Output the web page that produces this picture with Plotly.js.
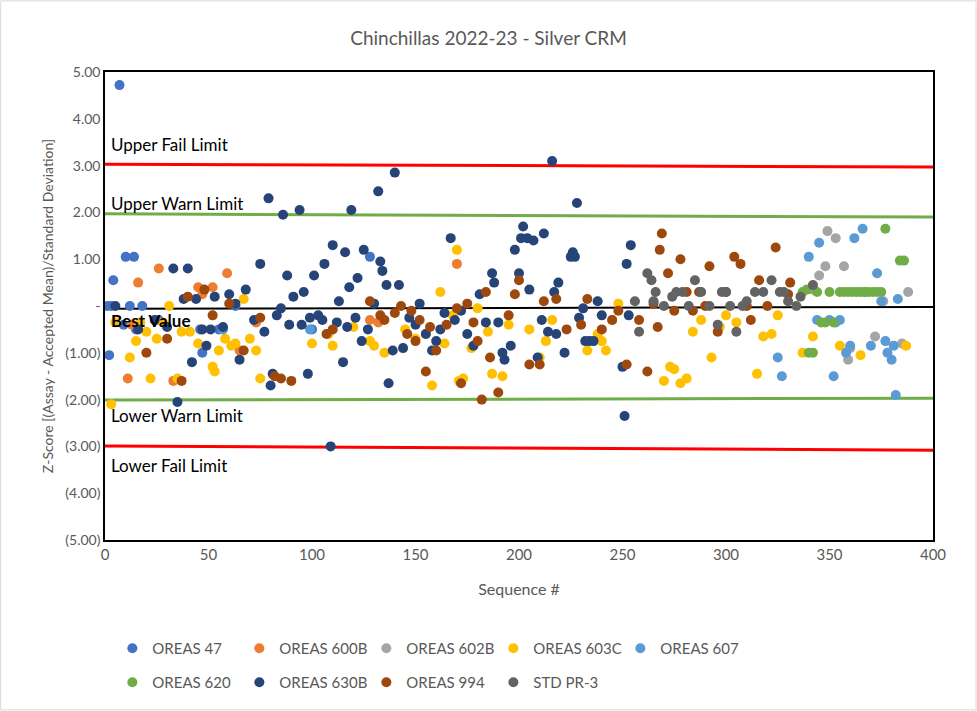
<!DOCTYPE html>
<html>
<head>
<meta charset="utf-8">
<script src="https://cdn.plot.ly/plotly-3.0.1.min.js"></script>
<style>body{margin:0;background:#fff}</style>
</head>
<body>
<div id="chart" style="width:977px;height:711px"></div>
<script>
// [sequence, z-score] pairs
const oreas47 = [[1,0],[2,-1.05],[3,0],[4,0.55],[7,4.72],[9,-0.4],[10,1.05],[12,0],[14,1.05],[15,-0.5],[18,0],[26,-0.3],[46,-0.5],[47,-1.0],[55,-0.5],[63,0],[100,-0.5],[128,1.05]]
const oreas600B = [[11,-1.55],[13,-0.4],[16,0.5],[26,0.8],[33,-1.6],[45,0.4],[47,0.25],[52,0.4],[59,0.7],[65,-0.95],[73,-0.35],[128,-0.3],[132,-0.35],[170,0.9]]
const oreas602B = [[342,0.35],[345,0.65],[348,0.85],[349,1.6],[353,1.45],[357,0.85],[359,-1.15],[360,-0.9],[372,-0.65],[376,0.1],[385,-0.8],[388,0.3]]
const oreas603C = [[3,-2.1],[5,-0.35],[12,-1.1],[15,-0.75],[17,-0.35],[20,-0.55],[22,-1.55],[25,-0.7],[28,-0.35],[31,0],[35,-1.55],[37,-0.55],[41,-0.55],[45,-0.8],[52,-1.3],[53,-1.4],[55,-0.95],[58,-0.7],[61,-0.85],[63,-0.8],[67,0.15],[70,-0.7],[73,-0.95],[75,-1.55],[100,-0.8],[108,-0.6],[110,-0.85],[120,-0.45],[128,-0.75],[130,-0.85],[135,-1.0],[145,-0.5],[150,-0.7],[155,-0.6],[158,-1.7],[162,0.3],[164,-0.8],[168,-0.2],[170,1.2],[171,-1.6],[173,-1.55],[177,-0.9],[180,-0.05],[185,-0.55],[187,-1.45],[192,-1.5],[195,-0.4],[205,-0.5],[210,-1.1],[213,-0.75],[216,-0.3],[233,-0.95],[238,-0.6],[240,-0.75],[242,-0.95],[245,-0.3],[248,0.05],[270,-1.6],[273,-1.3],[275,-1.35],[278,-1.65],[281,-1.55],[284,-0.55],[288,-0.3],[293,-1.1],[297,-0.45],[300,-0.2],[305,-0.35],[315,-1.45],[318,-0.65],[322,-0.6],[325,-0.2],[337,-1.0],[342,-0.65],[355,-0.85],[365,-1.05],[387,-0.85]]
const oreas607 = [[57,-0.5],[99,-0.5],[325,-1.1],[327,-1.5],[340,1.05],[344,-0.3],[345,1.35],[350,-0.3],[352,-1.5],[353,-0.35],[355,-0.3],[358,-1.0],[360,-0.85],[362,1.45],[366,1.65],[367,0.3],[370,-0.85],[373,0.7],[375,0.1],[377,-0.75],[378,-1.0],[380,-1.15],[381,-0.85],[382,-1.9],[383,0.15]]
const oreas620 = [[337,0.3],[339,0.35],[340,-1.0],[342,-1.0],[344,0.3],[346,-0.35],[348,-0.35],[350,0.3],[352,-0.35],[355,0.3],[357,0.3],[359,0.3],[361,0.3],[363,0.3],[365,0.3],[367,0.3],[369,0.3],[371,0.3],[373,0.3],[375,0.3],[377,1.65],[384,0.97],[386,0.97]]
const oreas630B = [[5,0],[16,-0.5],[24,-0.3],[30,-0.45],[33,0.8],[35,-2.05],[38,0.15],[40,0.8],[42,-1.2],[44,0.15],[47,-0.5],[49,-0.85],[51,-0.5],[53,0.2],[57,-0.45],[60,0.25],[63,0.05],[65,-1.15],[68,0.35],[72,-0.3],[75,0.9],[77,-0.55],[79,2.3],[80,-1.7],[81,-1.45],[83,-0.2],[85,-0.05],[86,1.95],[88,0.65],[89,-0.4],[91,0.2],[94,2.05],[95,-0.4],[96,0.3],[98,-1.45],[99,-0.25],[101,0.65],[103,-0.2],[105,-0.3],[106,0.9],[109,-3.0],[110,1.3],[112,-0.35],[113,0.1],[115,-1.2],[116,1.15],[117,-0.45],[118,0.4],[119,2.05],[121,-0.25],[122,0.6],[124,-0.75],[125,1.2],[127,-0.5],[130,0.05],[132,2.45],[133,0.95],[134,0.75],[136,0.45],[137,-1.65],[139,-0.95],[140,2.85],[142,0.45],[144,-0.9],[147,-0.25],[150,-0.4],[152,0.05],[155,-0.6],[158,-0.95],[160,-0.75],[162,-0.5],[164,-0.15],[167,1.45],[169,-0.3],[172,-0.1],[175,-0.6],[178,-0.85],[181,0.25],[184,-0.35],[187,0.7],[188,0.5],[190,-0.35],[192,-1.0],[193,-1.15],[196,-0.85],[198,1.2],[200,0.7],[201,1.45],[202,1.7],[204,1.45],[205,0.35],[207,1.4],[209,-1.1],[211,-0.3],[212,1.55],[214,-0.55],[216,3.1],[217,0.3],[218,-0.6],[219,0.5],[222,-1.0],[225,1.05],[226,1.15],[227,1.05],[228,2.2],[229,-0.25],[231,-0.05],[232,-0.75],[234,-0.75],[236,-0.75],[238,0.1],[240,-0.2],[250,-1.3],[251,-2.35],[252,0.9],[253,-0.2],[254,1.3]]
const oreas994 = [[20,-1.0],[30,-0.7],[37,-1.6],[40,0.2],[48,0.35],[52,-0.2],[60,0.05],[67,-0.95],[75,-0.25],[82,-1.5],[85,-1.55],[90,-1.6],[107,-0.6],[110,-0.5],[128,0.1],[133,-0.2],[135,-0.3],[140,-0.15],[143,0],[146,-0.6],[148,-0.1],[150,-0.75],[152,-0.3],[155,-1.4],[157,-0.45],[160,-0.95],[165,-0.4],[170,-0.05],[172,-1.65],[175,0.05],[178,-0.35],[180,-0.75],[182,-2.0],[184,0.3],[186,-1.1],[190,-1.85],[195,-0.2],[198,0.25],[200,0.55],[205,-1.25],[210,-1.25],[212,0.1],[218,0.15],[223,-0.5],[230,-0.4],[233,0.15],[240,-0.5],[245,-0.3],[248,-0.1],[252,-1.25],[258,-0.3],[262,-1.4],[265,0.05],[267,-0.45],[268,1.2],[269,1.55],[272,0.7],[275,-0.1],[278,1.0],[281,0.3],[284,-0.1],[287,0.3],[290,0],[292,0.85],[296,-0.55],[300,0.3],[304,1.05],[307,0.9],[310,0],[312,-0.3],[316,0.55],[320,0],[324,1.25],[330,0.25],[331,0.5]]
const stdPR3 = [[256,0.1],[258,-0.55],[262,0.7],[264,0.55],[265,0.1],[266,0.3],[270,0],[274,0.2],[276,0.3],[279,0.3],[282,0],[285,0.55],[288,0.3],[292,0],[296,-0.4],[298,0.3],[300,0.3],[302,0],[305,-0.55],[308,0],[310,0.1],[314,0.3],[318,0.3],[322,0.55],[326,0.3],[328,0.3],[330,0.1],[334,0],[336,0.2],[342,0.45]]

const seriesNames = ['OREAS 47', 'OREAS 600B', 'OREAS 602B', 'OREAS 603C', 'OREAS 607', 'OREAS 620', 'OREAS 630B', 'OREAS 994', 'STD PR-3']
const seriesData = [oreas47, oreas600B, oreas602B, oreas603C, oreas607, oreas620, oreas630B, oreas994, stdPR3]
const seriesColors = ['#4472C4', '#ED7D31', '#A5A5A5', '#FFC000', '#5B9BD5', '#70AD47', '#264478', '#9E480E', '#636363']

// control limits: [left value, right value]
const limitNames = ['Upper Fail Limit', 'Upper Warn Limit', 'Best Value', 'Lower Warn Limit', 'Lower Fail Limit']
const limitLeft = [3.03, 1.97, -0.06, -2.01, -2.99]
const limitRight = [2.97, 1.90, -0.02, -1.97, -3.08]
const limitColors = ['#FF0000', '#70AD47', '#000000', '#70AD47', '#FF0000']
const limitLabelY = [3.45, 2.2, -0.3, -2.35, -3.4]

const yTickVals = [5, 4, 3, 2, 1, 0, -1, -2, -3, -4, -5]
const yTickText = ['5.00', '4.00', '3.00', '2.00', '1.00', '-', '(1.00)', '(2.00)', '(3.00)', '(4.00)', '(5.00)']

let data = []
limitNames.forEach(function (name, i) {
  data.push({
    x: [0, 400], y: [limitLeft[i], limitRight[i]],
    mode: 'lines', showlegend: false, hoverinfo: 'skip',
    line: {color: limitColors[i], width: i == 2 ? 2 : 3}
  })
})
seriesData.forEach(function (pts, i) {
  data.push({
    x: pts.map(p => p[0]), y: pts.map(p => p[1]),
    name: seriesNames[i], mode: 'markers', type: 'scatter',
    legend: i < 5 ? 'legend' : 'legend2',
    marker: {color: seriesColors[i], size: 10}
  })
})

let annotations = limitNames.map(function (name, i) {
  return {
    x: 2, y: limitLabelY[i], xref: 'x', yref: 'y', xanchor: 'left', showarrow: false,
    text: i == 2 ? '<b>' + name + '</b>' : name,
    font: {size: 17, color: '#000'}
  }
})

let legendStyle = {
  orientation: 'h', xref: 'container', yref: 'container', xanchor: 'left', yanchor: 'middle',
  entrywidth: 82, entrywidthmode: 'pixels', font: {size: 15, color: '#595959'}, itemwidth: 30
}

let layout = {
  width: 977, height: 711,
  font: {family: 'Lato, "Open Sans", sans-serif', color: '#595959'},
  title: {text: 'Chinchillas 2022-23 - Silver CRM', x: 0.5, y: 0.955, font: {size: 19, color: '#595959'}},
  margin: {l: 105, r: 44, t: 72, b: 171},
  showlegend: true,
  legend: Object.assign({x: 0.115, y: 0.088}, legendStyle),
  legend2: Object.assign({x: 0.115, y: 0.04}, legendStyle),
  xaxis: {
    range: [0, 400], dtick: 50, showgrid: false, zeroline: false,
    showline: true, mirror: true, linecolor: '#000', linewidth: 1.5,
    ticks: '', tickfont: {size: 15},
    title: {text: 'Sequence #', font: {size: 16}, standoff: 22}
  },
  yaxis: {
    range: [-5, 5], tickvals: yTickVals, ticktext: yTickText, showgrid: false, zeroline: false,
    showline: true, mirror: true, linecolor: '#000', linewidth: 1.5,
    ticks: '', tickfont: {size: 14},
    title: {text: 'Z-Score [(Assay - Accepted Mean)/Standard Deviation]', font: {size: 14}, standoff: 8}
  },
  annotations: annotations,
  shapes: [{type: 'rect', xref: 'paper', yref: 'paper', x0: -0.126, x1: 1.052, y0: -0.363, y1: 1.152,
    line: {color: '#D9D9D9', width: 1}}]
}

Plotly.newPlot('chart', data, layout, {displayModeBar: false})
</script>
</body>
</html>
